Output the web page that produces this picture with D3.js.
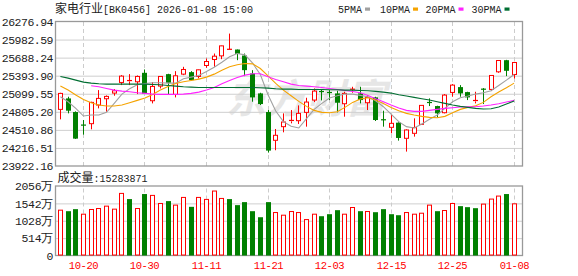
<!DOCTYPE html>
<html>
<head>
<meta charset="utf-8">
<script src="https://cdn.jsdelivr.net/npm/d3@7"></script>
<style>
  body { margin: 0; background: #fff; }
  svg { display: block; }
</style>
</head>
<body>
<div id="chart"></div>
<script>
// board info
const boardName = "家电行业";
const boardCode = "BK0456";
const stamp = "2026-01-08 15:00";

// trading days
const dates = ["10-15","10-16","10-17","10-20","10-21","10-22","10-23","10-24","10-27","10-28",
  "10-29","10-30","10-31","11-03","11-04","11-05","11-06","11-07","11-10","11-11",
  "11-12","11-13","11-14","11-17","11-18","11-19","11-20","11-21","11-24","11-25",
  "11-26","11-27","11-28","12-01","12-02","12-03","12-04","12-05","12-08","12-09",
  "12-10","12-11","12-12","12-15","12-16","12-17","12-18","12-19","12-22","12-23",
  "12-24","12-25","12-26","12-29","12-30","12-31","01-05","01-06","01-07","01-08"];

const open = [24844.9, 25023.7, 24801.6, 24590.3, 24612.0, 24915.4, 25018.3, 25110.4, 25283.7, 25305.4,
  25294.6, 25440.9, 24985.8, 25224.2, 25419.2, 25088.7, 25419.2, 25451.7, 25381.3, 25560.0,
  25657.5, 25717.1, 25814.7, 25820.1, 25722.6, 25430.0, 25105.0, 24801.6, 24341.1, 24563.2,
  24655.3, 24660.7, 24796.2, 24996.6, 25137.5, 25121.2, 25105.0, 24937.0, 25164.6, 25105.0,
  24953.3, 25040.0, 24677.0, 24552.4, 24628.2, 24373.6, 24454.9, 24601.2, 24958.7, 24899.1,
  24790.8, 25121.2, 25207.9, 25126.6, 24980.4, 25175.4, 25170.0, 25457.1, 25646.7, 25413.8];
const high = [25115.8, 25050.8, 24812.4, 24671.6, 24969.5, 25159.1, 25072.5, 25175.4, 25402.9, 25419.2,
  25397.5, 25495.0, 25289.2, 25386.7, 25424.6, 25467.9, 25538.4, 25467.9, 25495.0, 25673.8,
  25755.1, 25885.1, 26080.1, 25820.1, 25755.1, 25484.2, 25115.8, 24834.1, 24525.3, 24779.9,
  24834.1, 24909.9, 25034.5, 25186.2, 25170.0, 25159.1, 25148.3, 25132.1, 25213.3, 25213.3,
  25077.9, 25050.8, 24823.3, 24752.8, 24633.6, 24519.9, 24698.7, 24915.4, 25023.7, 24904.5,
  25094.1, 25256.7, 25240.4, 25132.1, 25132.1, 25191.7, 25402.9, 25646.7, 25652.1, 25619.6];
const low = [24682.4, 24779.9, 24362.8, 24433.2, 24519.9, 24861.2, 24807.0, 25067.0, 25240.4, 25240.4,
  25094.1, 25094.1, 24942.4, 25186.2, 25083.3, 25040.0, 25402.9, 25316.3, 25348.8, 25522.1,
  25538.4, 25663.0, 25809.2, 25646.7, 25386.7, 24969.5, 24915.4, 24140.7, 24178.6, 24471.1,
  24617.4, 24606.6, 24563.2, 24964.1, 24991.2, 24996.6, 24796.2, 24725.8, 25115.8, 24942.4,
  24834.1, 24655.3, 24563.2, 24454.9, 24335.7, 24156.9, 24400.7, 24590.3, 24899.1, 24714.9,
  24779.9, 25050.8, 25050.8, 24996.6, 24942.4, 24931.6, 25142.9, 25440.9, 25386.7, 25348.8];
const close = [25105.0, 24823.3, 24368.2, 24579.5, 24958.7, 25023.7, 25056.2, 25148.3, 25386.7, 25316.3,
  25381.3, 25099.6, 25218.7, 25381.3, 25278.3, 25392.1, 25495.0, 25321.7, 25489.6, 25625.0,
  25711.7, 25879.7, 25825.5, 25749.6, 25484.2, 25040.0, 24931.6, 24173.2, 24422.4, 24639.1,
  24666.2, 24779.9, 24964.1, 25142.9, 25126.6, 25110.4, 24953.3, 25105.0, 25175.4, 24996.6,
  25040.0, 24671.6, 24666.2, 24617.4, 24379.0, 24509.1, 24547.0, 24909.9, 24947.9, 24779.9,
  25077.9, 25240.4, 25105.0, 25040.0, 24991.2, 25164.6, 25397.5, 25641.3, 25473.4, 25608.8];

// volume in 万
const volume = [1341, 1311, 1371, 1222, 1361, 1390, 1460, 1371, 1837, 1669,
  1390, 1818, 1778, 1539, 1609, 1490, 1718, 1440, 1718, 1659,
  1907, 1688, 1669, 1490, 1579, 1311, 1132, 1579, 1271, 1192,
  1301, 1271, 1063, 1222, 1162, 1222, 1341, 1222, 1420, 1311,
  1301, 1281, 1371, 1222, 1192, 1271, 1222, 1251, 1490, 1311,
  1331, 1539, 1460, 1430, 1400, 1520, 1669, 1758, 1818, 1528.3871];

// moving averages as drawn
const ma5 = [25050.8, 24969.5, 24861.2, 24736.6, 24752.8, 24752.8, 24796.2, 24942.4, 25094.1, 25180.8,
  25245.8, 25267.5, 25278.3, 25278.3, 25272.9, 25272.9, 25343.3, 25370.4, 25397.5, 25462.5,
  25532.9, 25614.2, 25700.9, 25755.1, 25733.4, 25598.0, 25413.8, 25083.3, 24817.9, 24644.5,
  24568.6, 24541.6, 24693.3, 24844.9, 24942.4, 25029.1, 25067.0, 25094.1, 25094.1, 25072.5,
  25050.8, 24985.8, 24888.3, 24769.1, 24644.5, 24563.2, 24541.6, 24606.6, 24682.4, 24752.8,
  24861.2, 24969.5, 25034.5, 25061.6, 25094.1, 25115.8, 25148.3, 25235.0, 25321.7, 25413.8];
const ma10 = [25224.2, 25159.1, 25077.9, 25007.5, 24953.3, 24915.4, 24899.1, 24899.1, 24915.4, 24953.3,
  24991.2, 25029.1, 25088.7, 25159.1, 25218.7, 25267.5, 25294.6, 25316.3, 25337.9, 25370.4,
  25419.2, 25484.2, 25538.4, 25570.9, 25592.5, 25587.1, 25511.3, 25392.1, 25267.5, 25159.1,
  25067.0, 24975.0, 24893.7, 24828.7, 24796.2, 24790.8, 24807.0, 24877.4, 24958.7, 25012.9,
  25034.5, 24996.6, 24942.4, 24877.4, 24823.3, 24779.9, 24752.8, 24731.2, 24714.9, 24709.5,
  24731.2, 24790.8, 24844.9, 24877.4, 24904.5, 24958.7, 25050.8, 25126.6, 25197.1, 25272.9];
const ma20 = [null, null, null, null, 25229.6, 25213.3, 25186.2, 25159.1, 25142.9, 25132.1,
  25115.8, 25105.0, 25094.1, 25088.7, 25088.7, 25088.7, 25094.1, 25105.0, 25126.6, 25159.1,
  25202.5, 25262.1, 25316.3, 25365.0, 25402.9, 25424.6, 25424.6, 25375.8, 25332.5, 25294.6,
  25256.7, 25235.0, 25224.2, 25213.3, 25202.5, 25186.2, 25170.0, 25153.7, 25137.5, 25115.8,
  25072.5, 25018.3, 24969.5, 24915.4, 24866.6, 24828.7, 24812.4, 24812.4, 24828.7, 24844.9,
  24861.2, 24872.0, 24882.9, 24888.3, 24888.3, 24899.1, 24915.4, 24937.0, 24964.1, 24991.2];
const ma30 = [25381.3, 25354.2, 25321.7, 25289.2, 25272.9, 25262.1, 25256.7, 25256.7, 25256.7, 25256.7,
  25256.7, 25256.7, 25251.2, 25245.8, 25235.0, 25224.2, 25213.3, 25207.9, 25202.5, 25202.5,
  25202.5, 25202.5, 25202.5, 25202.5, 25202.5, 25202.5, 25197.1, 25191.7, 25180.8, 25175.4,
  25175.4, 25170.0, 25170.0, 25170.0, 25170.0, 25164.6, 25164.6, 25159.1, 25159.1, 25153.7,
  25148.3, 25137.5, 25126.6, 25110.4, 25083.3, 25061.6, 25040.0, 25018.3, 24996.6, 24969.5,
  24942.4, 24915.4, 24893.7, 24877.4, 24861.2, 24850.4, 24855.8, 24882.9, 24931.6, 24980.4];

const maNames = ["5PMA", "10PMA", "20PMA", "30PMA"];
const maColors = ["#a0a0a0", "#f5a300", "#ff22ff", "#006e32"];

// axis ticks
const priceTicks = [26276.94, 25982.59, 25688.24, 25393.90, 25099.55, 24805.20, 24510.86, 24216.51, 23922.16];
const volTicks = [0, 514, 1028, 1542, 2056];
const dateTicks = ["10-20", "10-30", "11-11", "11-21", "12-03", "12-15", "12-25", "01-08"];

const W = 578, H = 276;
const L = 55.5, R = 522.5;
const pTop = 21.5, pBot = 166, vTop = 186, vBot = 255.5;
const UP = "#ff0000", DOWN = "#008000";
const MONO = "'Liberation Mono', 'DejaVu Sans Mono', monospace";
const CJK = "'Noto Sans CJK SC', sans-serif";

const svg = d3.select("#chart").append("svg")
  .attr("width", W).attr("height", H);

const x = d3.scalePoint().domain(dates).range([59.9, 513.6]);
const yP = d3.scaleLinear().domain([23922.16, 26276.94]).range([pBot, pTop]);
const yV = d3.scaleLinear().domain([0, 2056]).range([vBot, vTop]);
const px = d => Math.round(x(d));

// watermark
svg.append("text")
  .attr("x", 226).attr("y", 113)
  .attr("font-family", CJK).attr("font-size", 40).attr("font-weight", "bold")
  .attr("font-style", "italic").attr("fill", "#e6e6e6")
  .text("东方财富");

// horizontal grid
function hgrid(scale, ticks) {
  const g = svg.append("g").attr("transform", `translate(${L},0)`)
    .call(d3.axisLeft(scale).tickValues(ticks).tickSize(-(R - L)).tickFormat(""));
  g.select(".domain").remove();
  g.selectAll("line").attr("stroke", "#cfcfcf");
}
hgrid(yP, priceTicks.slice(1, -1));
hgrid(yV, volTicks.slice(1, -1));

// vertical dashed grid
function vgrid(top, bot) {
  const g = svg.append("g").attr("transform", `translate(0,${bot})`)
    .call(d3.axisBottom(x).tickValues(dateTicks).tickSize(-(bot - top)).tickFormat(""));
  g.select(".domain").remove();
  g.selectAll(".tick").attr("transform", d => `translate(${px(d) + 0.5},0)`);
  g.selectAll("line").attr("stroke", "#cccccc").attr("stroke-dasharray", "4,3");
}
vgrid(pTop, pBot);
vgrid(vTop, vBot);

// frames
[[pTop, pBot], [vTop, vBot]].forEach(([t, b]) => {
  svg.append("rect").attr("x", L).attr("y", t).attr("width", R - L).attr("height", b - t)
    .attr("fill", "none").attr("stroke", "#999").attr("stroke-width", 1.3);
});

// candles
const idx = d3.range(dates.length);
const cg = svg.append("g");
idx.forEach(i => {
  const cx = px(dates[i]);
  const up = close[i] >= open[i];
  const col = up ? UP : DOWN;
  const top = yP(Math.max(open[i], close[i]));
  const bot = yP(Math.min(open[i], close[i]));
  const h = Math.max(1, bot - top);
  if (up) {
    cg.append("line").attr("x1", cx + 0.5).attr("x2", cx + 0.5)
      .attr("y1", yP(high[i])).attr("y2", top).attr("stroke", col);
    cg.append("line").attr("x1", cx + 0.5).attr("x2", cx + 0.5)
      .attr("y1", top + h).attr("y2", yP(low[i])).attr("stroke", col);
    if (h > 2) {
      cg.append("rect").attr("x", cx - 1.5).attr("y", top).attr("width", 4).attr("height", h)
        .attr("fill", "#fff").attr("stroke", col).attr("stroke-width", 1);
    } else {
      cg.append("rect").attr("x", cx - 2).attr("y", top - 0.5).attr("width", 5).attr("height", 1.2)
        .attr("fill", col);
    }
  } else {
    cg.append("line").attr("x1", cx + 0.5).attr("x2", cx + 0.5)
      .attr("y1", yP(high[i])).attr("y2", yP(low[i])).attr("stroke", col);
    cg.append("rect").attr("x", cx - 2).attr("y", h > 2 ? top : top - 0.5)
      .attr("width", 5).attr("height", h > 2 ? h : 1.2).attr("fill", col);
  }
});

// moving average lines
[ma5, ma10, ma20, ma30].forEach((s, k) => {
  const line = d3.line()
    .defined(d => d != null)
    .x((d, i) => x(dates[i]) + 0.5)
    .y(d => yP(d));
  svg.append("path").datum(s).attr("d", line)
    .attr("fill", "none").attr("stroke", maColors[k]).attr("stroke-width", 1.1);
});

// volume bars
const vg = svg.append("g");
idx.forEach(i => {
  const cx = px(dates[i]);
  const up = i === 0 || close[i] >= close[i - 1];
  const t = yV(volume[i]);
  if (up) {
    vg.append("rect").attr("x", cx - 1.5).attr("y", t).attr("width", 4).attr("height", vBot - t - 0.5)
      .attr("fill", "#fff").attr("stroke", UP).attr("stroke-width", 1);
  } else {
    vg.append("rect").attr("x", cx - 2).attr("y", t).attr("width", 5).attr("height", vBot - t)
      .attr("fill", DOWN);
  }
});

// price axis labels
const pa = svg.append("g").attr("transform", `translate(${L},0)`)
  .call(d3.axisLeft(yP).tickValues(priceTicks).tickSize(0).tickPadding(2.5)
    .tickFormat(d3.format(".2f")));
pa.select(".domain").remove();
pa.selectAll("text").attr("font-family", MONO).attr("font-size", 11.5)
  .attr("letter-spacing", -0.5).attr("fill", "#222");

// volume axis labels
const va = svg.append("g").attr("transform", `translate(${L},0)`)
  .call(d3.axisLeft(yV).tickValues(volTicks).tickSize(0).tickPadding(2.5)
    .tickFormat(d => d === 0 ? "0" : d + "万"));
va.select(".domain").remove();
va.selectAll("text").attr("font-family", MONO).attr("font-size", 11.5)
  .attr("letter-spacing", -0.3).attr("fill", "#222");

// date labels
const xa = svg.append("g").attr("transform", `translate(0,${vBot})`)
  .call(d3.axisBottom(x).tickValues(dateTicks).tickSize(0).tickPadding(6.5));
xa.select(".domain").remove();
xa.selectAll(".tick").attr("transform", d => `translate(${px(d) + 0.5},0)`);
xa.selectAll("text").attr("font-family", MONO).attr("font-size", 10.5)
  .attr("letter-spacing", -0.4).attr("fill", UP);

// title
const title = svg.append("text").attr("x", 55).attr("y", 13).attr("fill", "#222");
title.append("tspan").attr("font-family", CJK).attr("font-size", 12).text(boardName);
title.append("tspan").attr("font-family", MONO).attr("font-size", 10)
  .text(`[${boardCode}] ${stamp}`);

// legend
const legX = [338, 380, 425.5, 471.5];
maNames.forEach((n, k) => {
  const t = svg.append("text").attr("x", legX[k]).attr("y", 13)
    .attr("font-family", MONO).attr("font-size", 10).attr("fill", "#222").text(n);
  const w = t.node().getComputedTextLength();
  svg.append("rect").attr("x", legX[k] + w + 3).attr("y", 7.5).attr("width", 5).attr("height", 3.2)
    .attr("fill", maColors[k]);
});

// volume caption
const cap = svg.append("text").attr("x", 57.5).attr("y", 182).attr("fill", "#222");
cap.append("tspan").attr("font-family", CJK).attr("font-size", 12).text("成交量");
cap.append("tspan").attr("font-family", MONO).attr("font-size", 10)
  .text(":" + d3.format("d")(Math.round(volume[volume.length - 1] * 10000)));
</script>
</body>
</html>
